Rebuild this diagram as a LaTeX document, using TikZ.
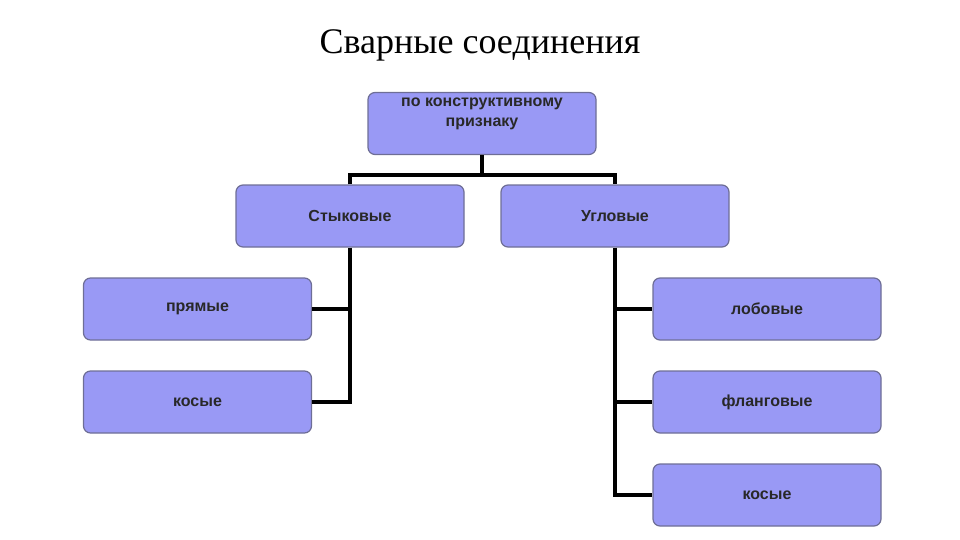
\documentclass[tikz,border=0pt]{standalone}
\usepackage{fontspec}
\setmainfont{Liberation Serif}
\newfontfamily\boxfont{Liberation Sans}
\begin{document}
\begin{tikzpicture}[x=1pt,y=-1pt,
  box/.style={draw={rgb,255:red,110;green,110;blue,150},line width=1.2pt,fill={rgb,255:red,153;green,153;blue,245},rounded corners=7pt,minimum width=228pt,minimum height=62pt,font=\boxfont\bfseries\fontsize{16}{20}\selectfont,text={rgb,255:red,40;green,40;blue,40},align=center},
  con/.style={line width=3.5pt,draw=black}]
\useasboundingbox (0,0) rectangle (960,540);
\node[font=\fontsize{36}{40}\selectfont] (title) at (480,45) {Сварные соединения};
\node[box] (top) at (482,123.5) {};
\node[font=\boxfont\bfseries\fontsize{16}{20}\selectfont,text={rgb,255:red,40;green,40;blue,40},align=center] (toptxt) at (482,114) {по конструктивному\\признаку};
\node[box] (st) at (350,216) {Стыковые};
\node[box] (ug) at (615,216) {Угловые};
\node[box] (pr) at (197.5,309) {прямые};
\node[box] (ko1) at (197.5,402) {косые};
\node[box] (lo) at (767,309) {лобовые};
\node[box] (fl) at (767,402) {фланговые};
\node[box] (ko2) at (767,495) {косые};
\coordinate (j) at (482,175);
\draw[con] (top.south) -- (j);
\draw[con] (st.north) |- (j) -| (ug.north);
\draw[con] (st.south) |- (ko1.east);
\draw[con] (st.south |- pr.east) -- (pr.east);
\draw[con] (ug.south) |- (ko2.west);
\draw[con] (ug.south |- lo.west) -- (lo.west);
\draw[con] (ug.south |- fl.west) -- (fl.west);
\end{tikzpicture}
\end{document}
